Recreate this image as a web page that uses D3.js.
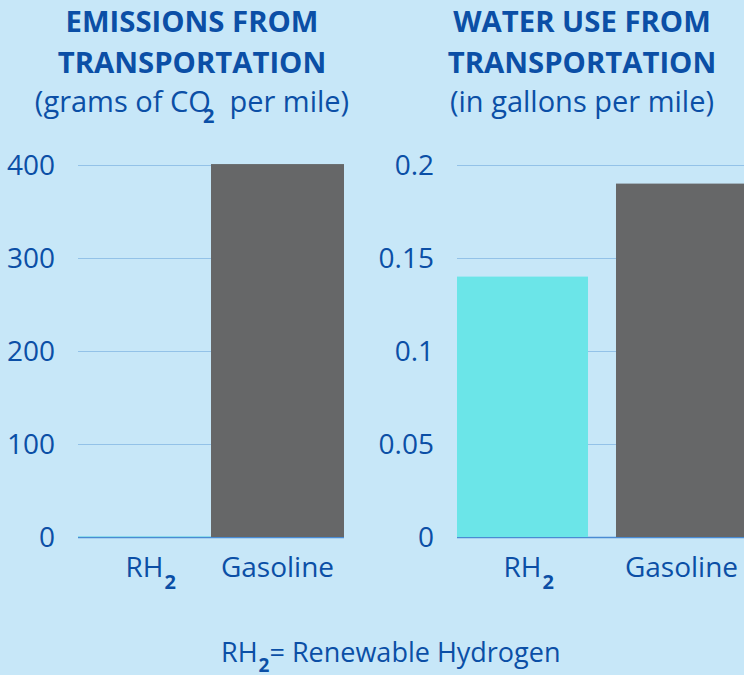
<!DOCTYPE html>
<html><head><meta charset="utf-8">
<script src="https://cdn.jsdelivr.net/npm/d3@7"></script>
<style>
html,body{margin:0;padding:0;background:#c7e7f8;}
svg{display:block;font-family:"Open Sans",sans-serif;}
text{white-space:pre;}
</style></head>
<body>
<svg id="c" width="744" height="675"></svg>
<script>
const categories = ["RH2", "Gasoline"];
const emissionsValues = [0.5, 401];
const waterValues = [0.14, 0.19];
const emissionsTicks = [0, 100, 200, 300, 400];
const waterTicks = [0, 0.05, 0.1, 0.15, 0.2];
const waterTickLabels = ["0", "0.05", "0.1", "0.15", "0.2"];
const barColors = ["#6be5e8", "#666768"];

const textColor = "#0b4fa6";
const gridColor = "#93c2e8";
const axisColor = "#4a8bd3";

const svg = d3.select("#c");
svg.append("rect").attr("width",744).attr("height",675).attr("fill","#c7e7f8");

function drawPanel(opt) {
  const g = svg.append("g");
  const y = d3.scaleLinear().domain(opt.domain).range([537, 165]);
  const x = d3.scaleBand().domain(categories).range(opt.xRange).paddingInner(opt.padInner).paddingOuter(0);

  // titles
  opt.titles.forEach((t, i) => {
    g.append("text").attr("x", opt.titleX).attr("y", [32, 73][i])
      .attr("text-anchor","middle").attr("font-size",29.3).attr("font-weight",700)
      .attr("fill",textColor).text(t);
  });
  const sub = g.append("text").attr("x", opt.titleX).attr("y", 112)
      .attr("text-anchor","middle").attr("font-size",29).attr("fill",textColor);
  opt.subtitle(sub);

  // grid
  const ax = d3.axisLeft(y).tickValues(opt.ticks).tickSize(-(opt.gridEnd - opt.xRange[0]))
    .tickFormat((d,i) => opt.tickLabels[i]).tickPadding(23);
  const axg = g.append("g").attr("transform", `translate(${opt.xRange[0]},0)`).call(ax);
  axg.select(".domain").remove();
  axg.selectAll(".tick line").attr("stroke", d => d === 0 ? axisColor : gridColor).attr("stroke-width", d => d===0?1.5:1.2);
  axg.selectAll(".tick text").attr("fill", textColor).attr("font-size", 28)
     .attr("font-family","Open Sans, sans-serif").attr("dy","0.35em");

  // bars
  g.selectAll("rect.bar").data(opt.values).join("rect").attr("class","bar")
    .attr("x",(d,i)=>x(categories[i])).attr("width",x.bandwidth())
    .attr("y",d=>y(d)).attr("height",d=>y(0)-y(d))
    .attr("fill",(d,i)=>barColors[i]);

  // x labels
  categories.forEach((c) => {
    const cx = x(c) + x.bandwidth()/2;
    if (c === "RH2") {
      const t = g.append("text").attr("x", cx).attr("y", 577).attr("text-anchor","middle")
        .attr("font-size",28).attr("fill",textColor).text("RH");
      const w = t.node().getComputedTextLength();
      g.append("text").attr("x", cx + w/2 + 1).attr("y", 589).attr("font-size",20)
        .attr("font-weight",700).attr("fill",textColor).text("2");
    } else {
      g.append("text").attr("x", cx).attr("y", 577).attr("text-anchor","middle")
        .attr("font-size",28).attr("fill",textColor).text("Gasoline");
    }
  });
}

drawPanel({
  domain:[0,400], xRange:[78,344], padInner:0, gridEnd:344,
  ticks: emissionsTicks, tickLabels: emissionsTicks.map(String), values: emissionsValues,
  titleX: 192, titles:["EMISSIONS FROM","TRANSPORTATION"],
  subtitle: (t) => {
    t.append("tspan").text("(grams of CO");
    t.append("tspan").attr("font-size",20).attr("font-weight",700).attr("dy",11).attr("dx",-8).text("2");
    t.append("tspan").attr("dy",-11).text("  per mile)");
  }
});

drawPanel({
  domain:[0,0.2], xRange:[457,747], padInner:0.176, gridEnd:747,
  ticks: waterTicks, tickLabels: waterTickLabels, values: waterValues,
  titleX: 582, titles:["WATER USE FROM","TRANSPORTATION"],
  subtitle: (t) => { t.text("(in gallons per mile)"); }
});

// footnote
const fn = svg.append("text").attr("x", 221).attr("y", 662).attr("font-size",27).attr("fill",textColor);
fn.append("tspan").text("RH");
fn.append("tspan").attr("font-size",19).attr("font-weight",700).attr("dy",10).attr("dx",1).text("2");
fn.append("tspan").attr("dy",-10).text("= Renewable Hydrogen");
</script>
</body></html>
